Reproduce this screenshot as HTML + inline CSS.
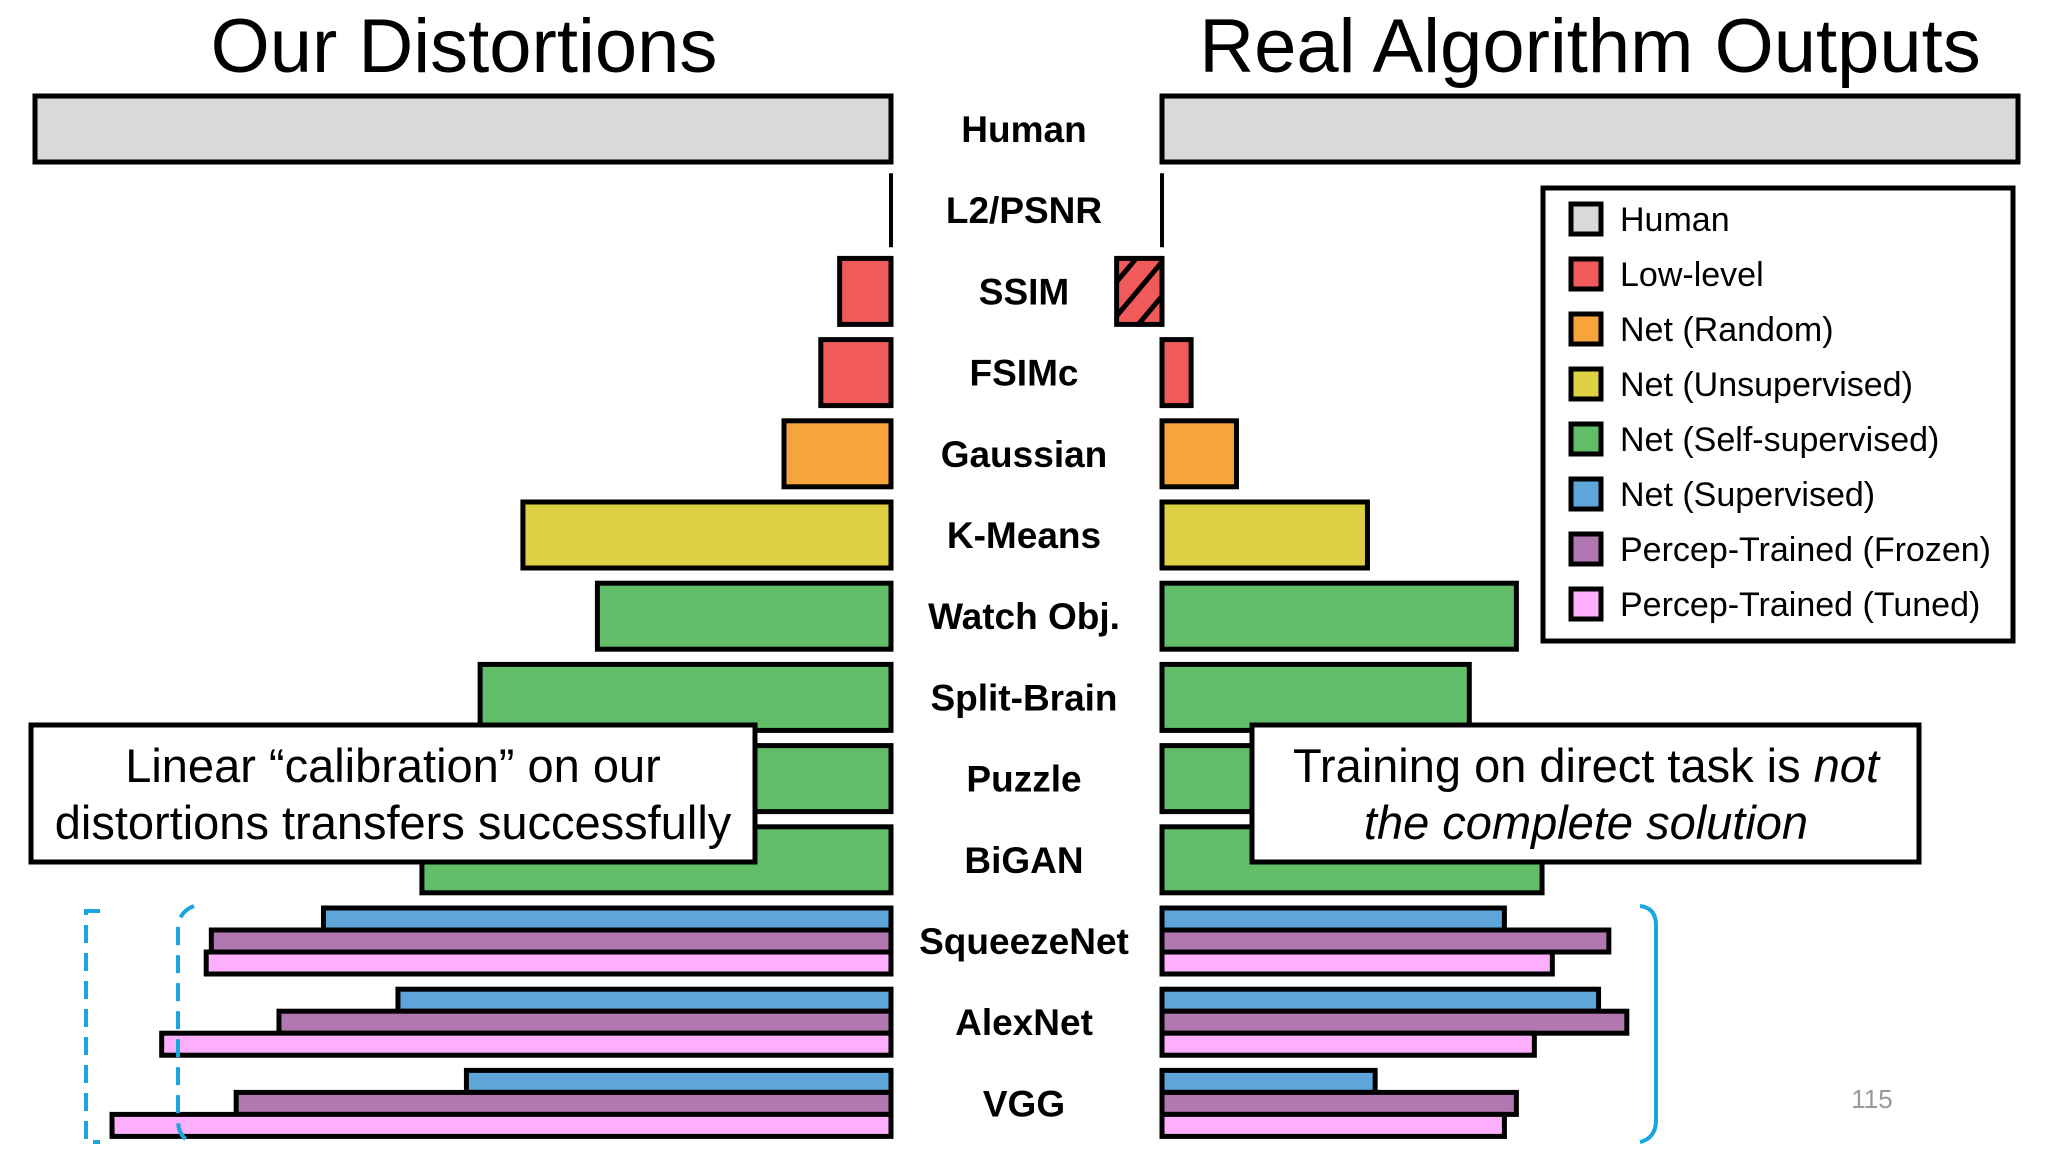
<!DOCTYPE html>
<html><head><meta charset="utf-8"><style>
html,body{margin:0;padding:0;background:#fff;}
svg{display:block;}
text{font-family:"Liberation Sans",Arial,sans-serif;}
</style></head><body>
<svg id="chart" width="2048" height="1152" viewBox="0 0 2048 1152" xmlns="http://www.w3.org/2000/svg">
<defs>
<pattern id="hatch" patternUnits="userSpaceOnUse" width="22" height="22" patternTransform="rotate(40)">
<rect width="22" height="22" fill="#f15a5a"/><rect x="0" y="0" width="5" height="22" fill="#000"/>
</pattern>
</defs>
<text x="464" y="72" font-size="76" text-anchor="middle" fill="#000">Our Distortions</text>
<text x="1590" y="72" font-size="76" text-anchor="middle" fill="#000">Real Algorithm Outputs</text>
<g id="bars"></g>
<g id="labels"></g>

<g id="legend">
<rect x="1543" y="188" width="470" height="453" fill="#fff" stroke="#000" stroke-width="5"/>
</g>

<g>
<rect x="31" y="725" width="724" height="137" fill="#fff" stroke="#000" stroke-width="5"/>
<text x="393" y="782" font-size="47" text-anchor="middle">Linear “calibration” on our</text>
<text x="393" y="839" font-size="47" text-anchor="middle">distortions transfers successfully</text>
</g>
<g>
<rect x="1252" y="725" width="667" height="137" fill="#fff" stroke="#000" stroke-width="5"/>
<text x="1586" y="782" font-size="47" text-anchor="middle">Training on direct task is <tspan font-style="italic">not</tspan></text>
<text x="1586" y="839" font-size="47" text-anchor="middle" font-style="italic">the complete solution</text>
</g>
<path d="M100 911 H86 V1142 H100" fill="none" stroke="#1aa7e0" stroke-width="4" stroke-dasharray="18,10"/>
<path d="M194 906 Q178 912 178 930 V1120 Q178 1138 194 1144" fill="none" stroke="#1aa7e0" stroke-width="4" stroke-dasharray="18,10"/>
<path d="M1640 906 Q1656 908 1656 925 V1120 Q1656 1138 1640 1142" fill="none" stroke="#1aa7e0" stroke-width="4"/>
<text x="1872" y="1108" font-size="26" text-anchor="middle" fill="#999">115</text>
</svg>
<script>
const categories = ["Human","L2/PSNR","SSIM","FSIMc","Gaussian","K-Means","Watch Obj.","Split-Brain","Puzzle","BiGAN","SqueezeNet","AlexNet","VGG"];
const groups = ["human","low","low","low","random","unsup","self","self","self","self","net","net","net"];
const leftValues = [1.0,0,0.06,0.082,0.125,0.43,0.343,0.48,0.5,0.548];
const rightValues = [1.0,0,-0.053,0.034,0.087,0.24,0.414,0.359,0.3,0.444];
const netLeftSup = [0.663,0.576,0.496];
const netLeftFrozen = [0.794,0.715,0.765];
const netLeftTuned = [0.80,0.852,0.91];
const netRightSup = [0.40,0.51,0.249];
const netRightFrozen = [0.522,0.543,0.414];
const netRightTuned = [0.456,0.435,0.40];
const legendLabels = ["Human","Low-level","Net (Random)","Net (Unsupervised)","Net (Self-supervised)","Net (Supervised)","Percep-Trained (Frozen)","Percep-Trained (Tuned)"];
const legendKeys = ["human","low","random","unsup","self","sup","frozen","tuned"];

const colors = {human:"#d9d9d9",low:"#f15a5a",random:"#f7a43c",unsup:"#ddd043",self:"#62bd69",sup:"#5ea5da",frozen:"#b077b1",tuned:"#fdaefc"};
const NS="http://www.w3.org/2000/svg";
const leftBase=891, rightBase=1162, unit=856;
const rowY = i => 129 + 81.2*i;
const barH = 66;
const xLeft = v => leftBase - v*unit;
const xRight = v => rightBase + v*unit;
const barsG=document.getElementById('bars');
function rect(x,y,w,h,fill,name){
  const r=document.createElementNS(NS,'rect');
  r.setAttribute('x',x);r.setAttribute('y',y);r.setAttribute('width',Math.max(w,0));r.setAttribute('height',h);
  r.setAttribute('fill',fill);r.setAttribute('stroke','#000');r.setAttribute('stroke-width','5');
  
  
  barsG.appendChild(r);return r;
}
function line(x,y1,y2,name){
  const l=document.createElementNS(NS,'line');
  l.setAttribute('x1',x);l.setAttribute('x2',x);l.setAttribute('y1',y1);l.setAttribute('y2',y2);
  l.setAttribute('stroke','#000');l.setAttribute('stroke-width','4');
  
  
  barsG.appendChild(l);
}
leftValues.forEach((v,i)=>{
  const y=rowY(i)-barH/2, c=colors[groups[i]];
  const slug=categories[i].toLowerCase().replace(/[^a-z0-9]+/g,'-');
  if(v===0){line(leftBase,y-4,y+barH+4,'left-bar-'+slug);}
  else rect(xLeft(v),y,leftBase-xLeft(v),barH,c,'left-bar-'+slug);
});
rightValues.forEach((v,i)=>{
  const y=rowY(i)-barH/2, c=colors[groups[i]];
  const slug=categories[i].toLowerCase().replace(/[^a-z0-9]+/g,'-');
  if(v===0){line(rightBase,y-4,y+barH+4,'right-bar-'+slug);}
  else if(v<0){rect(xRight(v),y,rightBase-xRight(v),barH,'url(#hatch)','right-bar-'+slug);}
  else rect(rightBase,y,xRight(v)-rightBase,barH,c,'right-bar-'+slug);
});
const subH=22;
[ [netLeftSup,'sup'],[netLeftFrozen,'frozen'],[netLeftTuned,'tuned'] ].forEach(([arr,k],j)=>{
  arr.forEach((v,n)=>{const i=10+n;const y=rowY(i)-barH/2+j*subH;
    rect(xLeft(v),y,leftBase-xLeft(v),subH,colors[k],'left-bar-'+categories[i].toLowerCase()+'-'+k);});
});
[ [netRightSup,'sup'],[netRightFrozen,'frozen'],[netRightTuned,'tuned'] ].forEach(([arr,k],j)=>{
  arr.forEach((v,n)=>{const i=10+n;const y=rowY(i)-barH/2+j*subH;
    rect(rightBase,y,xRight(v)-rightBase,subH,colors[k],'right-bar-'+categories[i].toLowerCase()+'-'+k);});
});
const labG=document.getElementById('labels');
categories.forEach((c,i)=>{
  const t=document.createElementNS(NS,'text');
  t.setAttribute('x',1024);t.setAttribute('y',rowY(i)+13);t.setAttribute('font-size','37');
  t.setAttribute('font-weight','bold');t.setAttribute('text-anchor','middle');
  t.textContent=c;
  
  
  labG.appendChild(t);
});
const legG=document.getElementById('legend');
legendLabels.forEach((l,i)=>{
  const y=219+55*i;
  const r=document.createElementNS(NS,'rect');
  r.setAttribute('x',1571);r.setAttribute('y',y-15);r.setAttribute('width',30);r.setAttribute('height',30);
  r.setAttribute('fill',colors[legendKeys[i]]);r.setAttribute('stroke','#000');r.setAttribute('stroke-width','5');
  
  
  legG.appendChild(r);
  const t=document.createElementNS(NS,'text');
  t.setAttribute('x',1620);t.setAttribute('y',y+12);t.setAttribute('font-size','34');
  t.textContent=l;
  
  
  legG.appendChild(t);
});
</script>
</body></html>
